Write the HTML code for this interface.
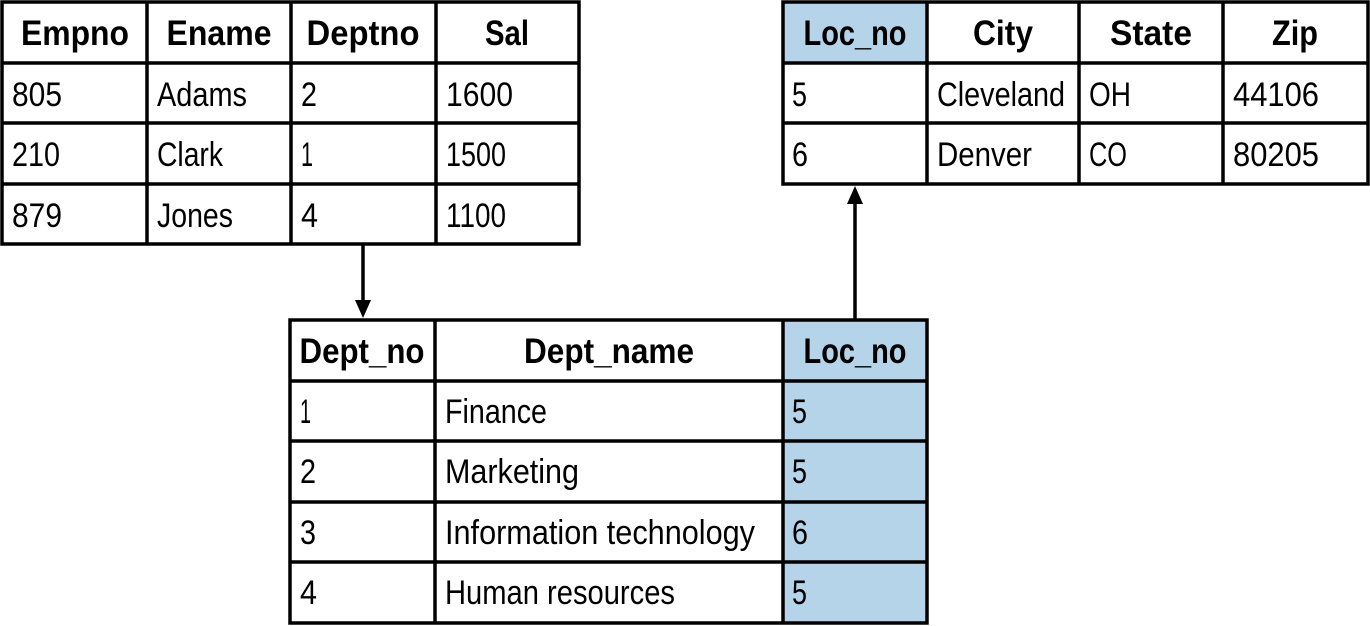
<!DOCTYPE html>
<html><head><style>body{margin:0;background:#fff}svg{display:block}</style></head><body>
<svg width="1370" height="626" xmlns="http://www.w3.org/2000/svg" font-family="Liberation Sans, sans-serif">
<rect x="783" y="2" width="144" height="61" fill="#b5d4ea"/>
<rect x="783" y="320" width="144" height="303" fill="#b5d4ea"/>
<g stroke="#000" stroke-width="3.5" fill="none">
<rect x="2" y="2" width="577" height="242"/>
<line x1="2" y1="63" x2="579" y2="63"/><line x1="2" y1="123" x2="579" y2="123"/><line x1="2" y1="184" x2="579" y2="184"/>
<line x1="147" y1="2" x2="147" y2="244"/><line x1="291" y1="2" x2="291" y2="244"/><line x1="436" y1="2" x2="436" y2="244"/>
<rect x="783" y="2" width="585" height="182"/>
<line x1="783" y1="63" x2="1368" y2="63"/><line x1="783" y1="123" x2="1368" y2="123"/>
<line x1="927" y1="2" x2="927" y2="184"/><line x1="1079" y1="2" x2="1079" y2="184"/><line x1="1223" y1="2" x2="1223" y2="184"/>
<rect x="290" y="320" width="637" height="303"/>
<line x1="290" y1="381" x2="927" y2="381"/><line x1="290" y1="441" x2="927" y2="441"/><line x1="290" y1="502" x2="927" y2="502"/><line x1="290" y1="562" x2="927" y2="562"/>
<line x1="435" y1="320" x2="435" y2="623"/><line x1="783" y1="320" x2="783" y2="623"/>
<line x1="363" y1="244" x2="363" y2="302"/><line x1="855" y1="320" x2="855" y2="202"/>
</g>
<polygon points="355,300 371,300 363,318" fill="#000"/>
<polygon points="847,204 863,204 855,186" fill="#000"/>
<g font-size="35" font-weight="bold" text-anchor="middle">
<text x="75" y="45" textLength="108" lengthAdjust="spacingAndGlyphs">Empno</text>
<text x="219" y="45" textLength="105" lengthAdjust="spacingAndGlyphs">Ename</text>
<text x="363" y="45" textLength="113" lengthAdjust="spacingAndGlyphs">Deptno</text>
<text x="507" y="45" textLength="44" lengthAdjust="spacingAndGlyphs">Sal</text>
<text x="855" y="45" textLength="103" lengthAdjust="spacingAndGlyphs">Loc_no</text>
<text x="1003" y="45" textLength="60" lengthAdjust="spacingAndGlyphs">City</text>
<text x="1151" y="45" textLength="82" lengthAdjust="spacingAndGlyphs">State</text>
<text x="1295" y="45" textLength="46" lengthAdjust="spacingAndGlyphs">Zip</text>
<text x="362" y="363" textLength="125" lengthAdjust="spacingAndGlyphs">Dept_no</text>
<text x="609" y="363" textLength="170" lengthAdjust="spacingAndGlyphs">Dept_name</text>
<text x="855" y="363" textLength="103" lengthAdjust="spacingAndGlyphs">Loc_no</text>
</g>
<g font-size="34">
<text x="12" y="106" textLength="50" lengthAdjust="spacingAndGlyphs">805</text><text x="157" y="106" textLength="90" lengthAdjust="spacingAndGlyphs">Adams</text><text x="301" y="106" textLength="16" lengthAdjust="spacingAndGlyphs">2</text><text x="446" y="106" textLength="67" lengthAdjust="spacingAndGlyphs">1600</text>
<text x="12" y="166" textLength="48" lengthAdjust="spacingAndGlyphs">210</text><text x="157" y="166" textLength="66" lengthAdjust="spacingAndGlyphs">Clark</text><text x="301" y="166" textLength="12" lengthAdjust="spacingAndGlyphs">1</text><text x="446" y="166" textLength="60" lengthAdjust="spacingAndGlyphs">1500</text>
<text x="12" y="227" textLength="50" lengthAdjust="spacingAndGlyphs">879</text><text x="157" y="227" textLength="76" lengthAdjust="spacingAndGlyphs">Jones</text><text x="301" y="227" textLength="17" lengthAdjust="spacingAndGlyphs">4</text><text x="446" y="227" textLength="60" lengthAdjust="spacingAndGlyphs">1100</text>
<text x="792" y="106" textLength="15" lengthAdjust="spacingAndGlyphs">5</text><text x="937" y="106" textLength="128" lengthAdjust="spacingAndGlyphs">Cleveland</text><text x="1089" y="106" textLength="42" lengthAdjust="spacingAndGlyphs">OH</text><text x="1233" y="106" textLength="86" lengthAdjust="spacingAndGlyphs">44106</text>
<text x="792" y="166" textLength="16" lengthAdjust="spacingAndGlyphs">6</text><text x="937" y="166" textLength="95" lengthAdjust="spacingAndGlyphs">Denver</text><text x="1089" y="166" textLength="38" lengthAdjust="spacingAndGlyphs">CO</text><text x="1233" y="166" textLength="86" lengthAdjust="spacingAndGlyphs">80205</text>
<text x="300" y="423" textLength="11" lengthAdjust="spacingAndGlyphs">1</text><text x="445" y="423" textLength="102" lengthAdjust="spacingAndGlyphs">Finance</text><text x="792" y="423" textLength="15" lengthAdjust="spacingAndGlyphs">5</text>
<text x="300" y="483" textLength="16" lengthAdjust="spacingAndGlyphs">2</text><text x="445" y="483" textLength="134" lengthAdjust="spacingAndGlyphs">Marketing</text><text x="792" y="483" textLength="15" lengthAdjust="spacingAndGlyphs">5</text>
<text x="300" y="544" textLength="16" lengthAdjust="spacingAndGlyphs">3</text><text x="445" y="544" textLength="310" lengthAdjust="spacingAndGlyphs">Information technology</text><text x="792" y="544" textLength="16" lengthAdjust="spacingAndGlyphs">6</text>
<text x="300" y="604" textLength="17" lengthAdjust="spacingAndGlyphs">4</text><text x="445" y="604" textLength="230" lengthAdjust="spacingAndGlyphs">Human resources</text><text x="792" y="604" textLength="15" lengthAdjust="spacingAndGlyphs">5</text>
</g>
</svg>
</body></html>
